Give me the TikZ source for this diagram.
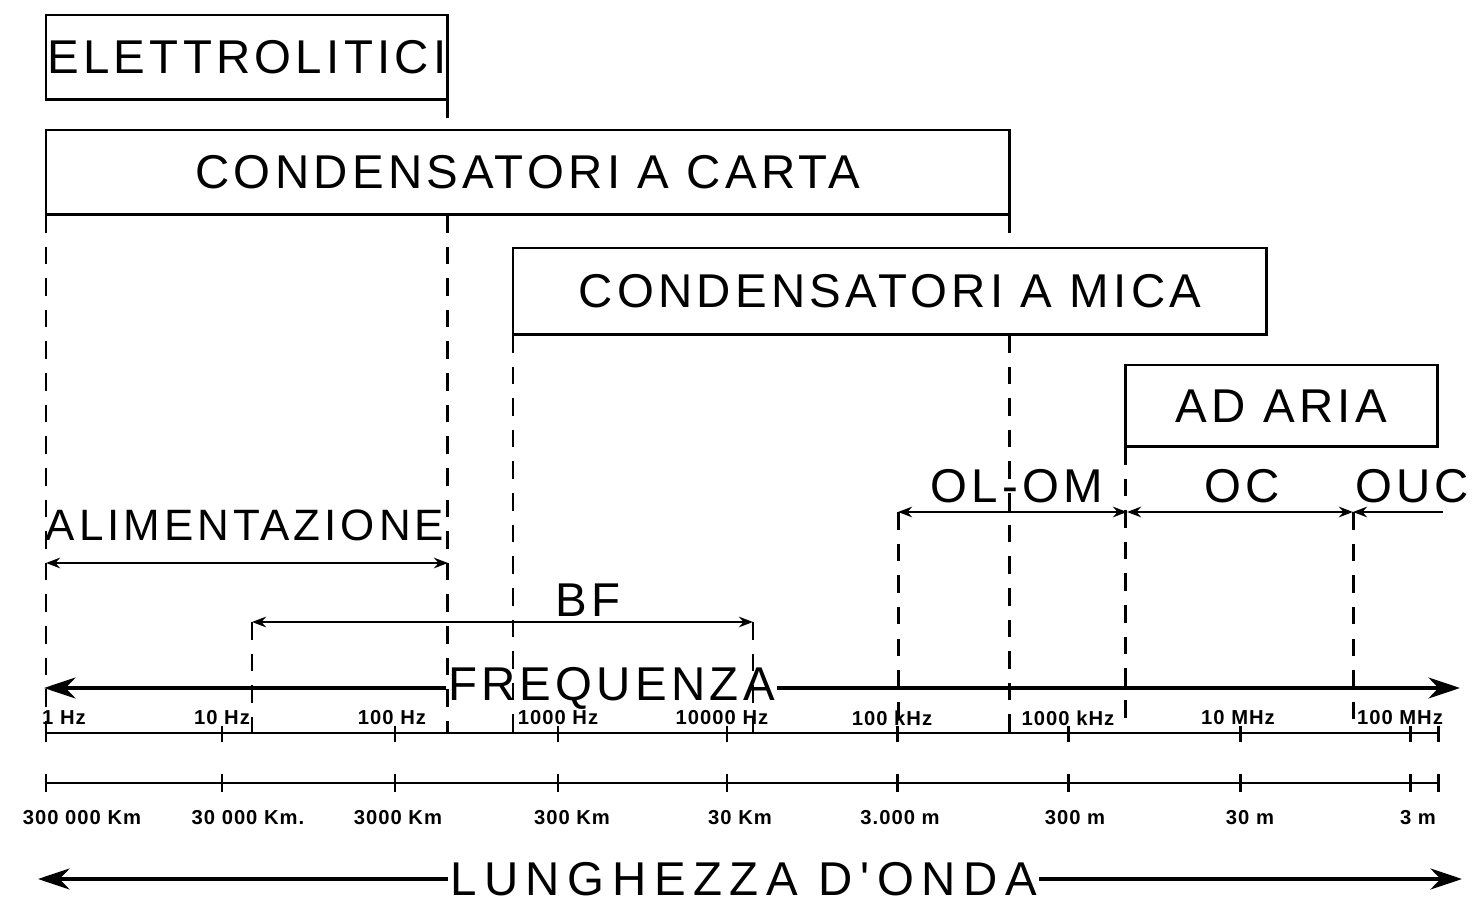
\documentclass[tikz,border=0pt]{standalone}
\usepackage{fontspec}
\setmainfont{Liberation Sans}
\newfontfamily\bigfont[LetterSpace=9]{Liberation Sans}
\newfontfamily\widefont[LetterSpace=16]{Liberation Sans}
\newfontfamily\tickfont[LetterSpace=5]{Liberation Sans}
\usepackage{tikz}
\usetikzlibrary{arrows.meta, positioning}

\begin{document}
\begin{tikzpicture}[x=0.02cm, y=-0.02cm,
  box/.style={draw, line width=1.7pt, fill=white, inner sep=0pt, outer sep=0pt, font=\bigfont\fontsize{27}{27}\selectfont},
  biglab/.style={inner sep=1pt, font=\bigfont\fontsize{27}{27}\selectfont},
  ticklab/.style={inner sep=0pt, font=\tickfont\bfseries\fontsize{11.5}{11.5}\selectfont},
  guide/.style={line width=1.7pt, dash pattern=on 10pt off 8pt},
  axis/.style={line width=1.7pt},
  spanline/.style={line width=1.7pt, {Stealth[length=8pt,width=6pt]}-{Stealth[length=8pt,width=6pt]}},
  bigarrow/.style={line width=2.2pt, -{Stealth[length=18pt,width=12pt]}}]
\useasboundingbox (0,0) rectangle (1475,905);

\node[box, anchor=north west, minimum width=8.04cm, minimum height=1.7cm] (elet) at (46,15) {ELETTROLITICI};
\node[box, anchor=north west, minimum width=19.28cm, minimum height=1.7cm] (carta) at (46,130) {CONDENSATORI A CARTA};
\node[box, anchor=north west, minimum width=15.08cm, minimum height=1.74cm] (mica) at (513,248) {CONDENSATORI A MICA};
\node[box, anchor=north west, minimum width=6.26cm, minimum height=1.64cm] (aria) at (1125,365) {AD ARIA};

\foreach \x [count=\i] in {46,222,395,558,727,897,1068,1240,1410,1438} {
  \coordinate (f\i) at (\x,733);
  \coordinate (w\i) at (\x,783);
}
\coordinate (all) at (46,563);  \coordinate (alr) at (448,563);
\coordinate (bfl) at (252,622); \coordinate (bfr) at (753,622);
\coordinate (oll) at (898,512); \coordinate (olr) at (1127,512);
\coordinate (ocr) at (1353,512); \coordinate (oucr) at (1443,512);
\coordinate (fql) at (44,688);  \coordinate (fqr) at (1460,688);
\coordinate (lgl) at (38,879);  \coordinate (lgr) at (1462,879);

\draw[guide] (elet.south east) -- (elet.south east |- carta.north);
\draw[guide] (elet.south east |- carta.south) -- (elet.south east |- f1);
\draw[guide] (carta.south west) -- (f1);
\draw[guide] (carta.south east) -- (carta.south east |- mica.north);
\draw[guide] (carta.south east |- mica.south) -- (carta.south east |- f1);
\draw[guide] (mica.south west) -- (mica.south west |- f1);
\draw[guide] (aria.south west) -- (aria.south west |- f1);
\draw[guide] (bfl) -- (bfl |- f1);
\draw[guide] (bfr) -- (bfr |- f1);
\draw[guide] (oll) -- (oll |- f1);
\draw[guide] (ocr) -- (ocr |- f1);

\node[biglab, font=\bigfont\fontsize{25}{25}\selectfont] (alim) at (245,525) {ALIMENTAZIONE};
\draw[spanline] (all) -- (alr);
\node[biglab] (bf) at (588,600) {BF};
\draw[spanline] (bfl) -- (bfr);
\node[biglab] (olom) at (1017,486) {OL-OM};
\node[biglab] (oc) at (1242,486) {OC};
\node[biglab] (ouc) at (1412,486) {OUC};
\draw[spanline] (oll) -- (olr);
\draw[spanline] (olr) -- (ocr);
\draw[spanline, {Stealth[length=8pt,width=6pt]}-] (ocr) -- (oucr);

\node[biglab, anchor=west] (freq) at (446,688) {FREQUENZA};
\draw[bigarrow] (freq.west) -- (fql);
\draw[bigarrow] (freq.east) -- (fqr);

\draw[axis] (f1) -- (f10);
\draw[axis] (w1) -- (w10);
\foreach \i in {1,...,10} {
  \draw[axis] ([yshift=4pt]f\i) -- ([yshift=-5pt]f\i);
  \draw[axis] ([yshift=5pt]w\i) -- ([yshift=-5pt]w\i);
}
\foreach \x/\lab in {64/1 Hz, 222/10 Hz, 392/100 Hz, 558/1000 Hz, 722/10000 Hz, 892/100 kHz, 1068/1000 kHz, 1238/10 MHz, 1400/100 MHz}
  \node[ticklab] (fl\x) at (\x,718) {\lab};
\foreach \x/\lab in {82/300 000 Km, 248/30 000 Km., 398/3000 Km, 572/300 Km, 740/30 Km, 900/3.000 m, 1075/300 m, 1250/30 m, 1418/3 m}
  \node[ticklab] (wl\x) at (\x,818) {\lab};

\node[biglab, font=\widefont\fontsize{27}{27}\selectfont, anchor=west] (lung) at (448,879) {LUNGHEZZA D'ONDA};
\draw[bigarrow] (lung.west) -- (lgl);
\draw[bigarrow] (lung.east) -- (lgr);
\end{tikzpicture}
\end{document}
